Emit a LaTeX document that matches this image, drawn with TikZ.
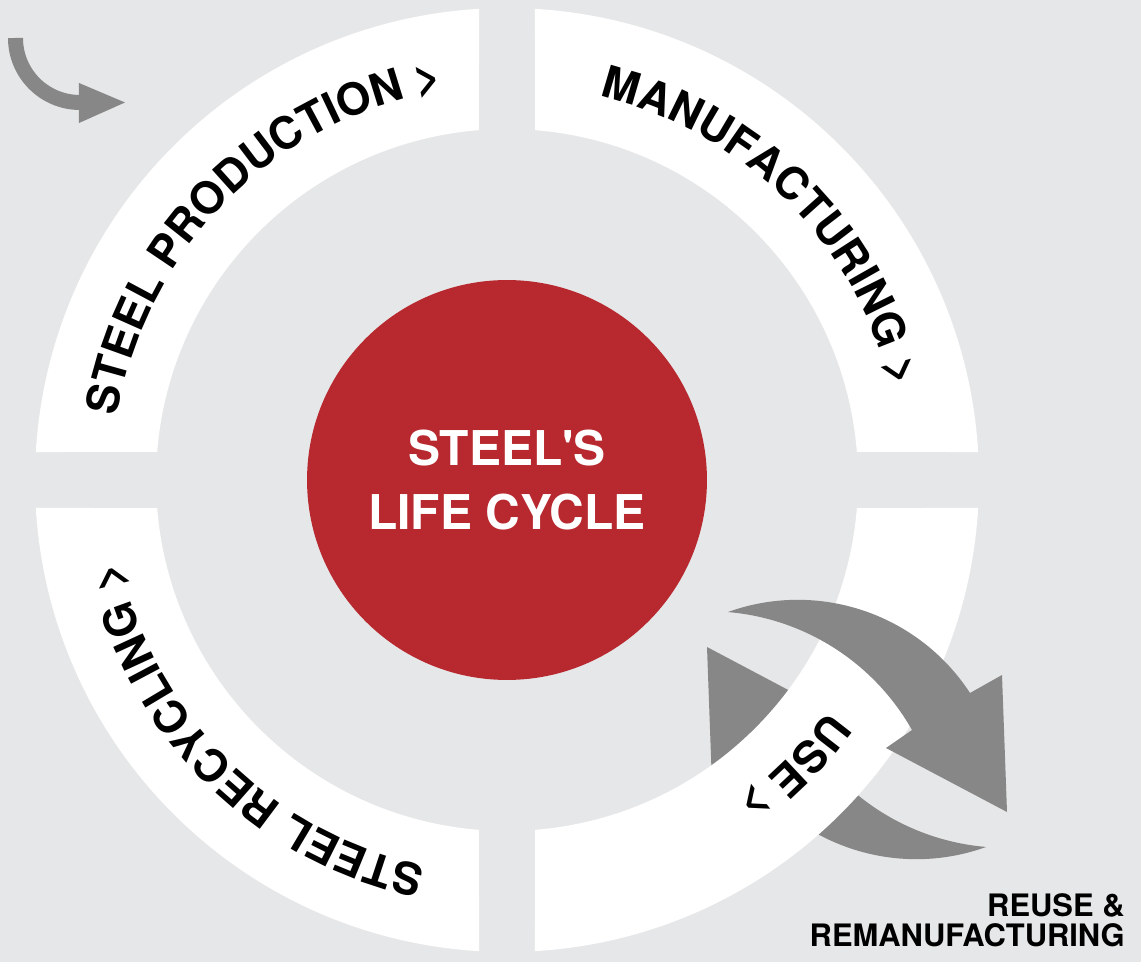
\documentclass[tikz,border=0pt]{standalone}
\usepackage{fontspec}
\setmainfont{TeX Gyre Heros}
\usepackage{tikz}
\usetikzlibrary{decorations.text}

\definecolor{bgcol}{HTML}{E6E7E8}
\definecolor{lifered}{HTML}{B7292F}
\definecolor{loopgray}{HTML}{878787}

\newcommand{\ringfont}{\fontsize{25.3}{30}\selectfont\bfseries}
\newcommand{\loopshape}[1]{\fill[loopgray,#1] (221,-132) arc (109.8:33.2:205.9) -- (495,-195) -- (500,-332) -- (379,-268) -- (405,-250) arc (29.5:85.2:234) -- cycle;}

\begin{document}
\begin{tikzpicture}[x=0.02cm,y=0.02cm,
	ringtext/.style={decorate,decoration={text along path,text align=center,text={|\ringfont|#1}}}]
	    \fill[bgcol] (-507,-482) rectangle (634,480);
	    \useasboundingbox (-507,-482) rectangle (634,480);
	    
	    % the loop goes under the ring first
	    \loopshape{rotate around={180:(350,-249.5)}}
	    
	    \foreach \a in {0,90,180,270}
	        \fill[white,rotate=\a] (86.6:472) arc (86.6:3.4:472) -- (4.58:351) arc (4.58:85.42:351) -- cycle;
	    
	    \node[circle,fill=lifered,minimum size=8cm,text=white,align=center,font=\fontsize{27.3}{35.9}\selectfont\bfseries] (core) at (0,0) {STEEL\textquotesingle S\\LIFE CYCLE};
	    
	    % ... and over it again
	    \loopshape{}
	    
	    \path[ringtext={STEEL PRODUCTION >}] (200:395) arc (200:70:395);
	    \path[ringtext={MANUFACTURING >}] (110:395) arc (110:-20:395);
	    \path[ringtext={USE >}] (20:395) arc (20:-110:395);
	    \path[ringtext={STEEL RECYCLING >}] (-70:395) arc (-70:-200:395);
	    
	    \draw[loopgray,line width=0.3cm] (-491.5,442) arc (180:270:64.5);
	    \fill[loopgray] (-428,397) -- (-382,377.5) -- (-428,357) -- cycle;
	    
	    \node[anchor=south east,align=right,inner sep=0,font=\fontsize{17.6}{17}\selectfont\bfseries] (reuse) at (618,-467) {REUSE \&\\REMANUFACTURING};

	\end{tikzpicture}
\end{document}
